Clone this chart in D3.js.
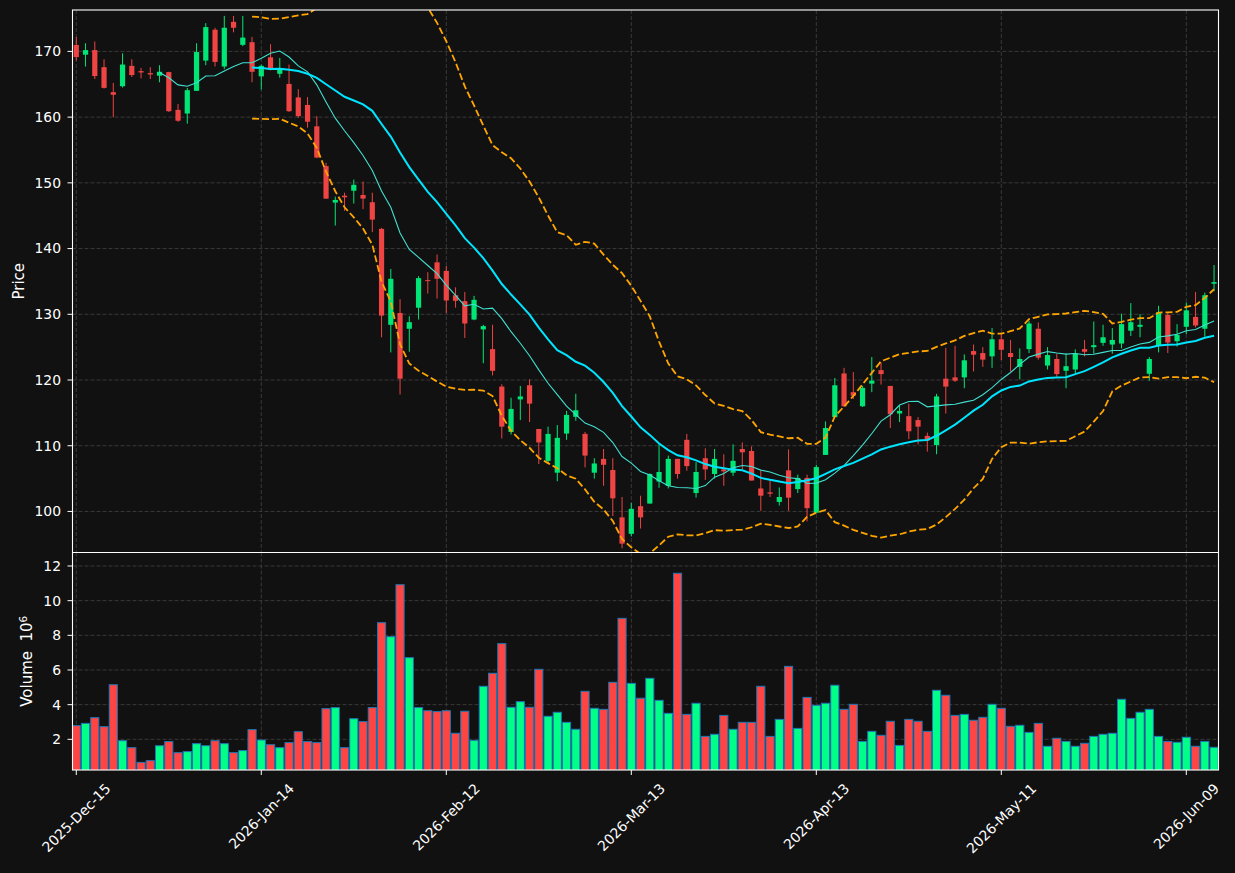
<!DOCTYPE html>
<html><head><meta charset="utf-8">
<script src="https://cdn.jsdelivr.net/npm/d3@7"></script>
<style>html,body{margin:0;padding:0;background:#111111;} svg{display:block;} text{font-family:"DejaVu Sans",sans-serif;}</style>
</head><body><svg id="c" width="1235" height="873"></svg>
<script>
// ---- data ----
const opens = [170.98,169.5,170.2,167.6,163.8,164.7,167.8,167.0,166.7,166.3,
 166.85,161.1,160.55,164.0,168.6,173.3,167.7,174.5,171.0,171.4,
 166.2,169.1,166.6,165.05,163.0,161.85,158.6,152.55,147.0,148.05,
 148.8,148.15,147.05,143.0,128.4,130.2,127.8,131.0,135.2,137.9,
 136.6,132.9,132.0,129.2,127.7,124.7,119.0,112.1,117.05,119.2,
 112.55,107.7,105.9,111.85,114.4,111.8,105.9,108.0,106.3,99.1,
 96.6,100.8,101.2,104.55,103.9,108.0,110.9,102.8,108.1,105.7,
 106.4,105.9,109.5,109.2,103.5,102.9,101.45,106.25,103.4,105.1,
 99.8,108.6,114.35,121.0,118.15,116.0,119.45,121.5,119.1,114.9,
 114.5,113.9,111.5,110.1,120.2,120.4,120.4,124.4,124.1,123.6,
 126.2,124.1,122.0,124.7,127.8,122.2,123.2,121.4,121.6,124.7,
 125.0,125.65,125.4,125.55,127.5,128.1,120.95,125.3,129.9,125.9,
 128.1,129.6,127.8,134.65];
const highs = [172.2,171.25,171.5,168.8,165.2,169.7,168.8,167.5,167.6,167.9,
 166.9,162.0,164.45,171.25,174.3,173.6,175.4,175.4,175.4,172.2,
 168.0,171.1,169.0,168.0,164.25,163.05,160.15,153.05,147.9,148.5,
 150.5,150.2,148.5,143.15,136.9,132.3,129.7,135.8,136.4,139.1,
 137.35,134.1,133.4,132.8,128.4,128.4,119.35,117.3,119.1,120.1,
 112.55,112.9,113.15,115.3,117.9,112.1,108.1,109.5,108.1,102.2,
 101.3,102.4,105.8,110.2,108.5,108.0,111.8,107.5,109.6,109.5,
 108.7,110.2,110.5,109.9,106.2,104.7,103.65,109.45,105.6,105.6,
 107.1,113.7,120.3,121.85,121.2,119.1,123.5,122.65,119.1,116.1,
 116.4,114.35,112.0,117.9,124.9,125.2,123.9,125.4,125.0,127.9,
 127.2,126.1,124.8,129.0,128.75,125.0,124.0,124.0,124.65,126.1,
 128.9,128.4,127.9,130.1,131.7,130.0,123.5,131.3,130.3,128.5,
 131.8,133.4,133.3,137.5];
const lows = [168.6,167.7,165.8,164.35,160.0,164.5,166.1,165.9,165.8,165.3,
 160.8,159.3,159.0,164.0,167.9,167.7,167.3,172.9,170.8,165.3,
 164.2,167.1,166.0,160.8,159.9,158.4,153.75,147.55,143.5,145.75,
 146.85,146.0,142.5,126.5,124.2,117.8,124.3,129.2,133.15,132.4,
 130.2,131.0,126.4,129.1,122.55,120.7,111.1,111.7,113.9,113.6,
 107.2,107.3,104.6,110.9,113.8,106.7,105.0,103.9,99.3,94.4,
 96.2,97.4,101.2,103.6,103.5,105.0,106.2,102.1,104.8,105.0,
 103.9,105.4,106.4,104.7,100.1,102.2,100.9,100.1,102.8,98.5,
 99.8,108.6,114.35,115.9,117.1,115.9,118.15,119.3,112.7,113.6,
 111.0,110.2,109.1,108.7,114.9,119.7,118.75,121.3,122.0,121.85,
 123.05,121.3,120.1,124.1,123.1,121.6,120.5,118.75,121.0,123.6,
 124.0,125.2,124.0,124.8,126.7,126.5,119.9,124.2,124.1,125.1,
 127.0,128.0,126.6,133.5];
const closes = [169.13,170.2,166.25,164.45,163.4,168.0,166.4,166.8,166.5,166.9,
 160.9,159.45,164.1,169.9,173.7,168.4,173.6,173.6,172.1,166.9,
 167.8,167.2,167.3,160.9,160.15,159.3,153.85,147.6,147.4,147.8,
 149.7,147.6,144.4,129.8,135.4,120.2,128.8,135.5,135.05,135.4,
 132.1,132.05,128.6,132.2,128.2,121.4,112.9,115.6,117.5,116.4,
 110.5,111.8,111.2,114.7,115.4,108.5,107.3,107.1,102.0,95.1,
 100.4,99.1,105.7,106.0,108.0,105.7,106.9,106.0,106.4,108.0,
 106.1,107.7,109.0,104.7,102.4,102.7,102.2,102.1,105.1,100.5,
 106.75,112.7,119.2,116.0,117.6,118.8,119.9,120.9,114.8,115.3,
 112.2,112.9,110.8,117.5,119.0,119.9,123.0,123.85,123.1,126.2,
 124.6,123.5,123.2,128.6,123.4,123.8,120.9,122.1,124.0,124.3,
 125.3,126.5,126.1,128.5,128.8,128.4,123.2,130.3,125.7,126.85,
 130.6,128.3,132.9,134.9];
// volume in millions
const volumes = [2.79,2.92,3.25,2.73,5.15,1.92,1.52,0.67,0.77,1.63,
 1.87,1.23,1.29,1.75,1.63,1.92,1.75,1.23,1.35,2.56,
 1.96,1.69,1.52,1.81,2.44,1.87,1.81,3.77,3.83,1.52,
 3.19,3.02,3.83,8.73,7.92,10.92,6.71,3.83,3.65,3.60,
 3.65,2.35,3.62,1.94,5.06,5.81,7.52,3.85,4.17,3.85,
 6.04,3.33,3.56,2.98,2.58,4.77,3.79,3.73,5.29,8.98,
 5.23,4.37,5.52,4.25,3.50,11.58,3.44,4.08,2.17,2.29,
 3.38,2.58,2.98,2.98,5.06,2.17,3.15,6.21,2.63,4.42,
 3.96,4.08,5.12,3.73,4.02,1.88,2.46,2.23,3.04,1.65,
 3.15,3.04,2.46,4.83,4.54,3.38,3.44,3.10,3.27,4.02,
 3.79,2.75,2.81,2.40,2.92,1.60,2.06,1.88,1.60,1.77,
 2.17,2.29,2.35,4.31,3.21,3.56,3.73,2.17,1.88,1.83,
 2.12,1.60,1.88,1.54];
const tickIndex = [0,20,40,60,80,100,120];
const tickLabels = ["2025-Dec-15","2026-Jan-14","2026-Feb-12","2026-Mar-13","2026-Apr-13","2026-May-11","2026-Jun-09"];
const priceTicks = [100,110,120,130,140,150,160,170];
const volumeTicks = [2,4,6,8,10,12];

// ---- indicators computed from closes ----
function sma(arr, n){ return arr.map((v,i)=> i<n-1 ? null : d3.mean(arr.slice(i-n+1,i+1))); }
function bands(arr, n, k){
  return arr.map((v,i)=>{
    if(i<n-1) return null;
    const w = arr.slice(i-n+1,i+1), m = d3.mean(w);
    const sd = Math.sqrt(d3.mean(w.map(x=>(x-m)*(x-m))));
    return {up:m+k*sd, lo:m-k*sd};
  });
}
const ma10 = sma(closes,10), ma20 = sma(closes,20), bb = bands(closes,20,2);

// ---- layout ----
const L = 72.5, R = 1218.5, PT = 10, PB = 552.5, VT = 552.5, VB = 770;
const svg = d3.select("#c");
svg.append("rect").attr("width",1235).attr("height",873).attr("fill","#111111");
const x = d3.scaleLinear().domain([-0.41, 123.48]).range([L, R]);
const yP = d3.scaleLinear().domain([93.83, 176.3]).range([552, PT]);
const yV = d3.scaleLinear().domain([0.23, 12.75]).range([VB, 553]);
const step = x(1)-x(0);
const upC = "#00e676", dnC = "#ef4444", upV = "#00ff88", dnV = "#ff4444";

const defs = svg.append("defs");
defs.append("clipPath").attr("id","cp").append("rect").attr("x",L).attr("y",PT).attr("width",R-L).attr("height",PB-PT);
defs.append("clipPath").attr("id","cv").append("rect").attr("x",L).attr("y",VT).attr("width",R-L).attr("height",VB-VT);

const gridC = "#3d3d3d";
// grids
const gP = svg.append("g");
gP.selectAll("line.h").data(priceTicks).join("line").attr("x1",L).attr("x2",R)
  .attr("y1",d=>yP(d)).attr("y2",d=>yP(d)).attr("stroke",gridC).attr("stroke-width",0.9).attr("stroke-dasharray","4,2");
gP.selectAll("line.v").data(tickIndex).join("line").attr("x1",d=>x(d)).attr("x2",d=>x(d))
  .attr("y1",PT).attr("y2",PB).attr("stroke",gridC).attr("stroke-width",0.9).attr("stroke-dasharray","4,2");
const gV = svg.append("g");
gV.selectAll("line.h").data(volumeTicks).join("line").attr("x1",L).attr("x2",R)
  .attr("y1",d=>yV(d)).attr("y2",d=>yV(d)).attr("stroke",gridC).attr("stroke-width",0.9).attr("stroke-dasharray","4,2");
gV.selectAll("line.v").data(tickIndex).join("line").attr("x1",d=>x(d)).attr("x2",d=>x(d))
  .attr("y1",VT).attr("y2",VB).attr("stroke",gridC).attr("stroke-width",0.9).attr("stroke-dasharray","4,2");

// candles
const idx = d3.range(closes.length);
const cg = svg.append("g").attr("clip-path","url(#cp)");
cg.selectAll("line.w").data(idx).join("line")
  .attr("x1",i=>x(i)).attr("x2",i=>x(i)).attr("y1",i=>yP(highs[i])).attr("y2",i=>yP(lows[i]))
  .attr("stroke",i=>closes[i]>=opens[i]?upC:dnC).attr("stroke-width",1);
const bw = 5.2;
cg.selectAll("rect.b").data(idx).join("rect")
  .attr("x",i=>x(i)-bw/2).attr("width",bw)
  .attr("y",i=>yP(Math.max(opens[i],closes[i])))
  .attr("height",i=>Math.max(1, yP(Math.min(opens[i],closes[i]))-yP(Math.max(opens[i],closes[i]))))
  .attr("fill",i=>closes[i]>=opens[i]?upC:dnC);

// lines
const lineOf = acc => d3.line().defined(i=>acc(i)!=null).x(i=>x(i)).y(i=>yP(acc(i)));
cg.append("path").attr("d",lineOf(i=>bb[i]&&bb[i].up)(idx)).attr("fill","none").attr("stroke","#ffa500").attr("stroke-width",1.8).attr("stroke-dasharray","7,3");
cg.append("path").attr("d",lineOf(i=>bb[i]&&bb[i].lo)(idx)).attr("fill","none").attr("stroke","#ffa500").attr("stroke-width",1.8).attr("stroke-dasharray","7,3");
cg.append("path").attr("d",lineOf(i=>ma10[i])(idx)).attr("fill","none").attr("stroke","#40e0d0").attr("stroke-width",1.1);
cg.append("path").attr("d",lineOf(i=>ma20[i])(idx)).attr("fill","none").attr("stroke","#00e5ff").attr("stroke-width",2);

// volume bars
const vg = svg.append("g").attr("clip-path","url(#cv)");
const vw = step*0.88;
vg.selectAll("rect").data(idx).join("rect")
  .attr("x",i=>x(i)-vw/2).attr("width",vw)
  .attr("y",i=>yV(volumes[i])).attr("height",i=>VB-yV(volumes[i])+1)
  .attr("fill",i=>closes[i]>=opens[i]?upV:dnV).attr("stroke","#1f77b4").attr("stroke-width",1);

// spines
svg.append("rect").attr("x",L).attr("y",PT).attr("width",R-L).attr("height",VB-PT).attr("fill","none").attr("stroke","#ffffff").attr("stroke-width",1.1);
svg.append("line").attr("x1",L).attr("x2",R).attr("y1",VT).attr("y2",VT).attr("stroke","#ffffff").attr("stroke-width",1.1);

// axes ticks & labels
const fs = "13.9px", tc = "#ffffff";
const ya = svg.append("g");
ya.selectAll("line").data(priceTicks).join("line").attr("x1",L-5).attr("x2",L).attr("y1",d=>yP(d)).attr("y2",d=>yP(d)).attr("stroke",tc);
ya.selectAll("text").data(priceTicks).join("text").attr("x",L-11.5).attr("y",d=>yP(d)).attr("dy","0.35em")
  .attr("text-anchor","end").attr("fill",tc).style("font-size",fs).text(d=>d);
const va = svg.append("g");
va.selectAll("line").data(volumeTicks).join("line").attr("x1",L-5).attr("x2",L).attr("y1",d=>yV(d)).attr("y2",d=>yV(d)).attr("stroke",tc);
va.selectAll("text").data(volumeTicks).join("text").attr("x",L-11.5).attr("y",d=>yV(d)).attr("dy","0.35em")
  .attr("text-anchor","end").attr("fill",tc).style("font-size",fs).text(d=>d);

const xa = svg.append("g");
xa.selectAll("line").data(tickIndex).join("line").attr("x1",d=>x(d)).attr("x2",d=>x(d)).attr("y1",VB).attr("y2",VB+5).attr("stroke",tc);
tickIndex.forEach((ti,k)=>{
  const t = xa.append("text").attr("text-anchor","middle").attr("dominant-baseline","central")
    .attr("fill",tc).style("font-size",fs).text(tickLabels[k]);
  const len = t.node().getComputedTextLength();
  const h = (len + 13.9)*Math.SQRT1_2;
  t.attr("transform",`translate(${x(ti)},${VB+11+h/2}) rotate(-45)`);
});

const als = "15px";
svg.append("text").attr("transform",`translate(24,${(PT+PB)/2}) rotate(-90)`).attr("text-anchor","middle")
  .attr("fill",tc).style("font-size",als).text("Price");
const vl = svg.append("text").attr("transform",`translate(32,${(VT+VB)/2}) rotate(-90)`).attr("text-anchor","middle")
  .attr("fill",tc).style("font-size",als).style("white-space","pre").attr("xml:space","preserve");
vl.append("tspan").text("Volume  10");
vl.append("tspan").attr("dy","-0.45em").style("font-size","10.5px").text("6");
</script></body></html>
